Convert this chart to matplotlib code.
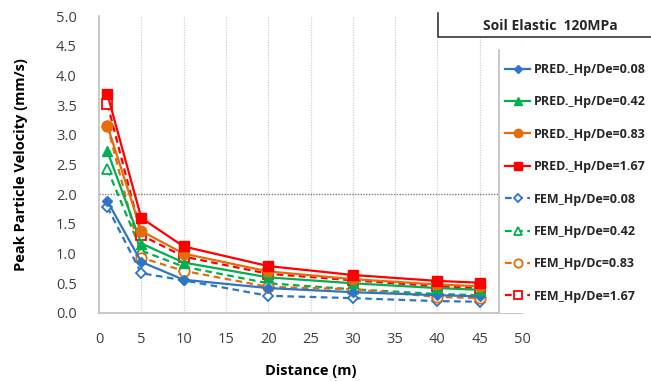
import matplotlib.pyplot as plt
from matplotlib.patches import Rectangle
from matplotlib.lines import Line2D

distance = [1, 5, 10, 20, 30, 40, 45]

pred_008 = [1.88, 0.86, 0.56, 0.42, 0.35, 0.30, 0.28]
pred_042 = [2.72, 1.17, 0.85, 0.60, 0.50, 0.42, 0.39]
pred_083 = [3.15, 1.38, 1.00, 0.70, 0.57, 0.48, 0.45]
pred_167 = [3.68, 1.60, 1.12, 0.79, 0.64, 0.54, 0.51]
fem_008 = [1.78, 0.67, 0.55, 0.29, 0.25, 0.20, 0.19]
fem_042 = [2.42, 1.05, 0.78, 0.50, 0.40, 0.32, 0.30]
fem_083 = [3.15, 0.93, 0.71, 0.44, 0.40, 0.27, 0.25]
fem_167 = [3.52, 1.31, 0.95, 0.66, 0.55, 0.45, 0.42]

labels_pred = ['PRED._Hp/De=0.08', 'PRED._Hp/De=0.42', 'PRED._Hp/De=0.83', 'PRED._Hp/De=1.67']
labels_fem = ['FEM_Hp/De=0.08', 'FEM_Hp/De=0.42', 'FEM_Hp/Dc=0.83', 'FEM_Hp/De=1.67']

blue = '#2e75c6'
green = '#00b050'
orange = '#e46c0a'
red = '#ff0000'

plt.rcParams['font.family'] = ['Open Sans', 'DejaVu Sans']

fig = plt.figure(figsize=(6.51, 3.81), dpi=100)
ax = fig.add_axes([99 / 651, 68 / 381, 423 / 651, 297 / 381])

pred_series = [pred_008, pred_042, pred_083, pred_167]
fem_series = [fem_008, fem_042, fem_083, fem_167]
colors = [blue, green, orange, red]
markers = ['D', '^', 'o', 's']
msizes = [5, 6.5, 7.5, 7]

handles = []
for ys, c, m, ms, lab in zip(pred_series, colors, markers, msizes, labels_pred):
    h, = ax.plot(distance, ys, color=c, marker=m, markersize=ms, linewidth=1.6,
                 label=lab, zorder=4)
    handles.append(h)
for ys, c, m, ms, lab in zip(fem_series, colors, markers, msizes, labels_fem):
    h, = ax.plot(distance, ys, color=c, marker=m, markersize=ms, linewidth=1.6,
                 linestyle=(0, (3, 2)), markerfacecolor='white',
                 markeredgewidth=1.3, label=lab, zorder=3)
    handles.append(h)

ax.set_xlim(0, 50)
ax.set_ylim(0, 5)
ax.set_xticks(range(0, 55, 5))
ax.set_yticks([i * 0.5 for i in range(11)])
ax.set_yticklabels(['%.1f' % (i * 0.5) for i in range(11)])
ax.tick_params(length=0, labelsize=10.5, colors='#404040')
ax.tick_params(axis='y', pad=16)
ax.tick_params(axis='x', pad=14)
for s in ['top', 'right']:
    ax.spines[s].set_visible(False)
for s in ['left', 'bottom']:
    ax.spines[s].set_color('#bfbfbf')
    ax.spines[s].set_linewidth(1.2)

for xv in range(5, 55, 5):
    ax.axvline(xv, color='#d0d0d0', linestyle=(0, (1, 1)), linewidth=0.9, zorder=1)
ax.axhline(2.0, color='#808080', linestyle=(0, (1, 1)), linewidth=1.0, zorder=1)

ax.set_xlabel('Distance (m)', fontsize=10.5, fontweight='bold', labelpad=12)
ax.set_ylabel('Peak Particle Velocity (mm/s)', fontsize=10.5, fontweight='bold', labelpad=20)

# legend panel on the right
fig.patches.append(Rectangle((499 / 651, 68 / 381), 152 / 651, 263 / 381,
                             transform=fig.transFigure, facecolor='white',
                             edgecolor='none', zorder=5))
fig.add_artist(Line2D([499 / 651, 499 / 651], [68 / 381, 331 / 381],
                      transform=fig.transFigure, color='#bfbfbf', linewidth=1.2, zorder=6))
leg = fig.legend(handles=handles, loc='upper left', bbox_to_anchor=(500 / 651, 1 - 58 / 381),
                 frameon=False, handlelength=2.0, handletextpad=0.3, markerscale=0.8,
                 labelspacing=1.55, borderaxespad=0, prop={'weight': 'bold', 'size': 9})
leg.set_zorder(7)
for t in leg.get_texts():
    t.set_color('#262626')

# title box
fig.patches.append(Rectangle((438 / 651, 1 - 37 / 381), 213 / 651, 37 / 381,
                             transform=fig.transFigure, facecolor='white',
                             edgecolor='none', zorder=5))
fig.add_artist(Line2D([438 / 651, 438 / 651, 1.0], [1 - 13 / 381, 1 - 37 / 381, 1 - 37 / 381],
                      transform=fig.transFigure, color='#262626', linewidth=1.1, zorder=6))
fig.text(550 / 651, 1 - 26 / 381, 'Soil Elastic  120MPa', ha='center', va='center',
         fontsize=10, fontweight='bold', color='#262626', zorder=7)

fig.savefig('out.png', dpi=100)
